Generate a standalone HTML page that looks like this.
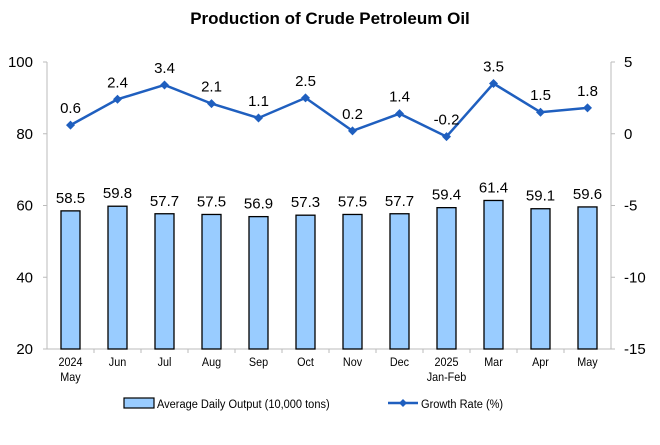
<!DOCTYPE html>
<html><head><meta charset="utf-8"><style>
body{margin:0;background:#fff;font-family:"Liberation Sans",Arial,sans-serif}
svg text{font-family:"Liberation Sans",Arial,sans-serif}
</style></head><body>
<svg id="c" width="660" height="440" xmlns="http://www.w3.org/2000/svg">
<text x="330" y="24" text-anchor="middle" font-size="17" font-weight="bold">Production of Crude Petroleum Oil</text>
<g id="axes"></g><g id="bars"></g><g id="line"></g>
<g>
<g><rect x="124" y="398" width="30" height="10" fill="#99ccff" stroke="#000" stroke-width="1.2"/><text x="157" y="408" font-size="12" transform="scale(0.92,1)" transform-origin="157 408">Average Daily Output (10,000 tons)</text></g>
<g><line x1="388" y1="403" x2="418" y2="403" stroke="#1f5fbf" stroke-width="2.5"/><path d="M403 399 L407 403 L403 407 L399 403Z" fill="#1f5fbf"/><text x="421" y="408" font-size="12" transform="scale(0.92,1)" transform-origin="421 408">Growth Rate (%)</text></g>
</g>
</svg>
<script>
const categories=[["2024","May"],["Jun"],["Jul"],["Aug"],["Sep"],["Oct"],["Nov"],["Dec"],["2025","Jan-Feb"],["Mar"],["Apr"],["May"]];
const outputValues=[58.5,59.8,57.7,57.5,56.9,57.3,57.5,57.7,59.4,61.4,59.1,59.6];
const growthValues=[0.6,2.4,3.4,2.1,1.1,2.5,0.2,1.4,-0.2,3.5,1.5,1.8];
const leftTicks=[20,40,60,80,100];
const rightTicks=[-15,-10,-5,0,5];
const NS="http://www.w3.org/2000/svg";
const X0=47,X1=611,Y0=349,Y1=62;
const band=(X1-X0)/categories.length;
const xc=i=>X0+band*(i+0.5);
const yL=v=>Y0-(v-20)/80*(Y0-Y1);
const yR=v=>Y0-(v+15)/20*(Y0-Y1);
function mk(t,a,p){const e=document.createElementNS(NS,t);for(const k in a)e.setAttribute(k,a[k]);p.appendChild(e);return e;}
const ax=document.getElementById('axes'),bg=document.getElementById('bars'),lg=document.getElementById('line');
let e=mk('line',{x1:X0,y1:Y1,x2:X0,y2:Y0,stroke:'#bbb'},ax);

e=mk('line',{x1:X1,y1:Y1,x2:X1,y2:Y0,stroke:'#bbb'},ax);

e=mk('line',{x1:X0,y1:Y0,x2:X1,y2:Y0,stroke:'#bbb'},ax);

leftTicks.forEach(v=>{mk('line',{x1:X0-4,y1:yL(v),x2:X0,y2:yL(v),stroke:'#bbb'},ax);
const t=mk('text',{x:33,y:yL(v)+5,'text-anchor':'end','font-size':15},ax);t.textContent=v;
});
rightTicks.forEach(v=>{mk('line',{x1:X1,y1:yR(v),x2:X1+4,y2:yR(v),stroke:'#bbb'},ax);
const t=mk('text',{x:624,y:yR(v)+5,'font-size':15},ax);t.textContent=v;
});
categories.forEach((c,i)=>{if(i>0)mk('line',{x1:X0+band*i,y1:Y0,x2:X0+band*i,y2:Y0+4,stroke:'#bbb'},ax);
c.forEach((s,j)=>{const t=mk('text',{x:xc(i),y:366+j*15,'text-anchor':'middle','font-size':12,transform:`scale(0.9,1)`,'transform-origin':`${xc(i)} 366`},ax);t.textContent=s;
});});
outputValues.forEach((v,i)=>{const r=mk('rect',{x:xc(i)-9.5,y:yL(v),width:19,height:Y0-yL(v),fill:'#99ccff',stroke:'#000','stroke-width':1.3},bg);

const t=mk('text',{x:xc(i),y:yL(v)-8,'text-anchor':'middle','font-size':15},bg);t.textContent=v.toFixed(1);
});
const p=mk('polyline',{points:growthValues.map((v,i)=>xc(i)+','+yR(v)).join(' '),fill:'none',stroke:'#1f5fbf','stroke-width':2.5},lg);

growthValues.forEach((v,i)=>{const x=xc(i),y=yR(v);
const d=mk('path',{d:`M${x} ${y-4.5}L${x+4.5} ${y}L${x} ${y+4.5}L${x-4.5} ${y}Z`,fill:'#1f5fbf'},lg);

const t=mk('text',{x:x,y:y-12,'text-anchor':'middle','font-size':15},lg);t.textContent=v.toFixed(1);
});
</script>
</body></html>
